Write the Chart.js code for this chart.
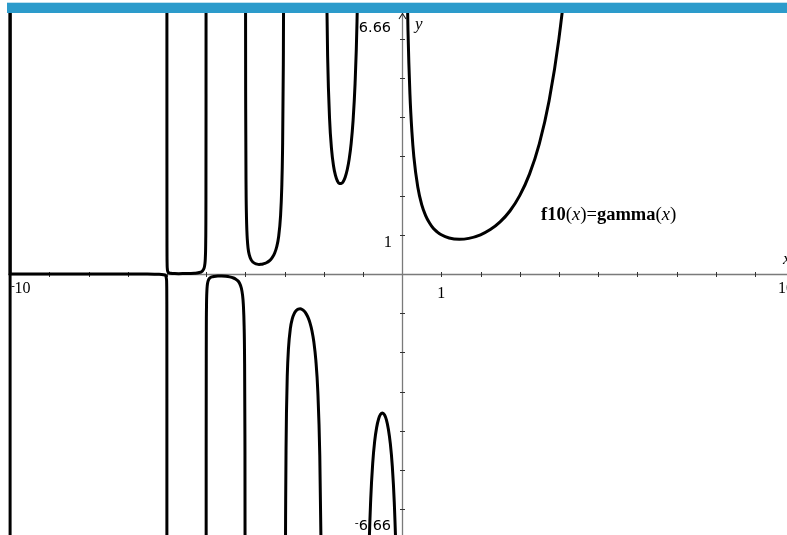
<!DOCTYPE html>
<html><head><meta charset="utf-8">
<script src="https://cdn.jsdelivr.net/npm/chart.js@4.4.0/dist/chart.umd.min.js"></script>
<style>
html,body{margin:0;padding:0;background:#fff;overflow:hidden;width:787px;height:535px}
#wrap{position:absolute;left:0;top:0;width:800px;height:535px}
</style>
</head><body>
<div id="wrap"><canvas id="c" width="800" height="535"></canvas></div>
<script>
// ---- data: f10(x)=gamma(x), window x -10..10, y -6.66..6.66 ----
const xRange = [-10, 10];
const yRange = [-6.66, 6.66];
const xTicks = [-10,-9,-8,-7,-6,-5,-4,-3,-2,-1,1,2,3,4,5,6,7,8,9,10];
const yTicks = [-6,-5,-4,-3,-2,-1,1,2,3,4,5,6];
const funcLabel = ["f10", "(", "x", ")", "=", "gamma", "(", "x", ")"];

// vertical connection drawn at x = -10
const poleLeft = [[-10, -7.5], [-10, 7.5]];
// (-10,-6): values indistinguishable from 0, then dive at -6
const branchM10 = [[-10, 7.5],[-9.9999, 0.0028],[-9.5, 0.0000028],[-8.5, -0.000026],[-7.5, 0.000224],[-6.5, -0.00168],[-6.2, -0.0051],[-6.05, -0.0255],[-6.01, -0.136],[-6.005, -0.275],[-6.002, -0.694],[-6.001, -1.389],[-6.0005, -2.78],[-6.0002, -6.94],[-6.0001, -13.9]];
// (-6,-5)
const branchM6 = [[-5.9999, 13.9],[-5.9998, 6.94],[-5.9995, 2.78],[-5.999, 1.389],[-5.998, 0.694],[-5.995, 0.280],[-5.99, 0.1416],[-5.98, 0.072],[-5.97, 0.0491],[-5.95, 0.0306],[-5.9, 0.017],[-5.8, 0.0104],[-5.7, 0.0094],[-5.6, 0.0096],[-5.5, 0.0109],[-5.4, 0.0137],[-5.3, 0.0192],[-5.2, 0.0316],[-5.1, 0.0714],[-5.05, 0.154],[-5.03, 0.264],[-5.02, 0.403],[-5.01, 0.819],[-5.005, 1.652],[-5.002, 4.16],[-5.001, 8.33],[-5.0005, 16.7]];
// (-5,-4)
const branchM5 = [[-4.9995, -16.7],[-4.999, -8.34],[-4.998, -4.2],[-4.995, -1.681],[-4.99, -0.848],[-4.98, -0.431],[-4.97, -0.293],[-4.96, -0.2236],[-4.95, -0.182],[-4.93, -0.1347],[-4.9, -0.1004],[-4.85, -0.0744],[-4.8, -0.0625],[-4.75, -0.0564],[-4.7, -0.0536],[-4.65, -0.0527],[-4.6, -0.0537],[-4.5, -0.06],[-4.4, -0.0741],[-4.3, -0.102],[-4.25, -0.1261],[-4.2, -0.164],[-4.15, -0.229],[-4.1, -0.364],[-4.07, -0.541],[-4.05, -0.776],[-4.03, -1.328],[-4.02, -2.022],[-4.01, -4.105],[-4.005, -8.27],[-4.002, -20.8]];
// (-4,-3)
const branchM4 = [[-3.998, 21],[-3.995, 8.40],[-3.99, 4.23],[-3.98, 2.148],[-3.97, 1.456],[-3.96, 1.109],[-3.95, 0.902],[-3.93, 0.664],[-3.9, 0.492],[-3.85, 0.361],[-3.8, 0.300],[-3.75, 0.268],[-3.7, 0.252],[-3.65, 0.245],[-3.6, 0.247],[-3.55, 0.255],[-3.5, 0.270],[-3.45, 0.293],[-3.4, 0.326],[-3.35, 0.372],[-3.3, 0.4385],[-3.25, 0.536],[-3.2, 0.689],[-3.15, 0.952],[-3.1, 1.492],[-3.07, 2.20],[-3.05, 3.143],[-3.03, 5.35],[-3.02, 8.13],[-3.01, 16.46],[-3.005, 33.1]];
// (-3,-2)
const branchM3 = [[-2.995, -33.5],[-2.99, -16.88],[-2.98, -8.55],[-2.97, -5.78],[-2.96, -4.39],[-2.95, -3.563],[-2.93, -2.61],[-2.9, -1.919],[-2.85, -1.388],[-2.8, -1.139],[-2.75, -1.004],[-2.7, -0.931],[-2.65, -0.896],[-2.6, -0.889],[-2.55, -0.905],[-2.5, -0.945],[-2.45, -1.011],[-2.4, -1.108],[-2.35, -1.247],[-2.3, -1.447],[-2.25, -1.743],[-2.2, -2.205],[-2.15, -3.0],[-2.1, -4.626],[-2.07, -6.76],[-2.05, -9.585],[-2.03, -16.2],[-2.02, -24.55]];
// (-2,-1)
const branchM2 = [[-1.98, 25.5],[-1.97, 17.16],[-1.96, 13.0],[-1.95, 10.51],[-1.93, 7.66],[-1.9, 5.564],[-1.85, 3.956],[-1.8, 3.188],[-1.75, 2.762],[-1.7, 2.514],[-1.65, 2.374],[-1.6, 2.311],[-1.55, 2.308],[-1.5, 2.363],[-1.45, 2.477],[-1.4, 2.659],[-1.35, 2.931],[-1.3, 3.328],[-1.25, 3.921],[-1.2, 4.851],[-1.15, 6.45],[-1.1, 9.715],[-1.07, 14.0],[-1.05, 19.65],[-1.04, 24.6]];
// (-1,0)
const branchM1 = [[-0.97, -33.8],[-0.95, -20.49],[-0.9, -10.57],[-0.85, -7.32],[-0.8, -5.74],[-0.75, -4.83],[-0.7, -4.27],[-0.65, -3.92],[-0.6, -3.70],[-0.55, -3.58],[-0.5, -3.545],[-0.45, -3.59],[-0.4, -3.72],[-0.35, -3.96],[-0.3, -4.33],[-0.25, -4.90],[-0.2, -5.82],[-0.15, -7.42],[-0.1, -10.69],[-0.05, -20.63],[-0.03, -33.9]];
// (0,inf)
const branchPos = [[0.03, 32.8],[0.05, 19.47],[0.08, 12.0],[0.1, 9.51],[0.12, 7.88],[0.15, 6.22],[0.2, 4.59],[0.25, 3.63],[0.3, 2.99],[0.4, 2.22],[0.5, 1.77],[0.6, 1.49],[0.7, 1.30],[0.8, 1.16],[0.9, 1.07],[1, 1],[1.2, 0.918],[1.46, 0.886],[1.7, 0.909],[2, 1],[2.25, 1.133],[2.5, 1.329],[2.75, 1.608],[3, 2],[3.25, 2.549],[3.5, 3.323],[3.75, 4.423],[4, 6],[4.25, 8.285],[4.5, 11.63]];

const curves = [branchM10, branchM6, branchM5, branchM4, branchM3, branchM2, branchM1, branchPos];

// ---- drawing ----
const PX_PER_X = 39.2;
const LEFT_PX = 10.1;      // pixel of x=-10
const CANVAS_W = 800;
const xMin = xRange[0] - LEFT_PX / PX_PER_X;
const xMax = xMin + CANVAS_W / PX_PER_X;

function toXY(arr){ return arr.map(p => ({x: p[0], y: p[1]})); }

const datasets = curves.map(c => ({
  data: toXY(c), showLine: true, borderColor: '#000', borderWidth: 3,
  pointRadius: 0, cubicInterpolationMode: 'monotone', capBezierPoints: false,
  borderJoinStyle: 'round', borderCapStyle: 'round', fill: false
}));
datasets.unshift({
  data: toXY(poleLeft), showLine: true, borderColor: '#000', borderWidth: 3,
  pointRadius: 0, tension: 0, fill: false
});

const axesPlugin = {
  id: 'tiAxes',
  beforeDatasetsDraw(chart){
    const {ctx, scales:{x, y}} = chart;
    const x0 = Math.round(x.getPixelForValue(0)) + 0.5;
    const y0 = Math.round(y.getPixelForValue(0)) + 0.5;
    ctx.save();
    ctx.strokeStyle = '#7a7a7a'; ctx.lineWidth = 1.3;
    ctx.beginPath(); ctx.moveTo(8, y0); ctx.lineTo(CANVAS_W, y0); ctx.stroke();
    ctx.beginPath(); ctx.moveTo(x0, 13); ctx.lineTo(x0, 535); ctx.stroke();
    ctx.strokeStyle = '#222'; ctx.lineWidth = 1.1;
    ctx.beginPath(); ctx.moveTo(x0 - 3.5, 19); ctx.lineTo(x0, 13.5); ctx.lineTo(x0 + 3.5, 19); ctx.stroke();
    ctx.strokeStyle = '#333'; ctx.lineWidth = 1;
    xTicks.forEach(v => {
      const px = Math.round(x.getPixelForValue(v)) + 0.5;
      ctx.beginPath(); ctx.moveTo(px, y0 - 2.5); ctx.lineTo(px, y0 + 2.5); ctx.stroke();
    });
    yTicks.forEach(v => {
      const py = Math.round(y.getPixelForValue(v)) + 0.5;
      ctx.beginPath(); ctx.moveTo(x0 - 2.5, py); ctx.lineTo(x0 + 2.5, py); ctx.stroke();
    });
    ctx.restore();
  },
  afterDatasetsDraw(chart){
    const {ctx, scales:{x, y}} = chart;
    const x0 = x.getPixelForValue(0), y0 = y.getPixelForValue(0);
    ctx.save();
    ctx.fillStyle = '#000';
    ctx.textBaseline = 'alphabetic';
    // y window labels (sans)
    ctx.font = '14.5px "DejaVu Sans"';
    ctx.textAlign = 'right';
    ctx.fillText(String(yRange[1].toFixed(2)), x0 - 11, 32);
    ctx.fillText(Math.abs(yRange[0]).toFixed(2), x0 - 11, 530);
    const wNeg = ctx.measureText(Math.abs(yRange[0]).toFixed(2)).width;
    ctx.font = '11px "DejaVu Sans"';
    ctx.fillText('-', x0 - 11 - wNeg, 526);
    // tick labels (serif)
    ctx.font = '16.5px "Liberation Serif"';
    ctx.fillText('1', x0 - 10, y.getPixelForValue(1) + 12);
    ctx.font = '16px "Liberation Serif"';
    ctx.textAlign = 'left';
    const pL = x.getPixelForValue(xRange[0]);
    ctx.fillText(String(Math.abs(xRange[0])), pL + 4.5, y0 + 19);
    ctx.font = '11px "DejaVu Sans"';
    ctx.fillText('-', pL + 1, y0 + 15);
    ctx.font = '16px "Liberation Serif"';
    ctx.textAlign = 'center';
    ctx.fillText('1', x.getPixelForValue(1), y0 + 24);
    ctx.textAlign = 'right';
    ctx.fillText(String(xRange[1]), x.getPixelForValue(xRange[1]), y0 + 19);
    // axis names
    ctx.font = 'italic 17px "Liberation Serif"';
    ctx.textAlign = 'left';
    ctx.fillText('y', x0 + 13, 29);
    ctx.fillText('x', 783, 264);
    // function label
    const fonts = ['bold 18.5px "Liberation Serif"', '19px "Liberation Serif"', 'italic 18.5px "Liberation Serif"', '19px "Liberation Serif"', '18.5px "Liberation Serif"', 'bold 18.5px "Liberation Serif"', '19px "Liberation Serif"', 'italic 18.5px "Liberation Serif"', '19px "Liberation Serif"'];
    let cx = 541;
    funcLabel.forEach((t, i) => {
      ctx.font = fonts[i];
      ctx.fillText(t, cx, 220);
      cx += ctx.measureText(t).width;
    });
    ctx.restore();
  },
  afterDraw(chart){
    const ctx = chart.ctx;
    ctx.save();
    ctx.fillStyle = '#2c9bcb';
    ctx.fillRect(7, 3, CANVAS_W - 7, 10);
    ctx.fillStyle = '#bfe0ee';
    ctx.fillRect(7, 2, CANVAS_W - 7, 1);
    ctx.restore();
  }
};

new Chart(document.getElementById('c').getContext('2d'), {
  type: 'scatter',
  data: { datasets },
  options: {
    responsive: false, animation: false, devicePixelRatio: 1, events: [],
    layout: { padding: { top: 13, left: 0, right: 0, bottom: 0 } },
    plugins: { legend: { display: false }, tooltip: { enabled: false } },
    scales: {
      x: { type: 'linear', display: false, min: xMin, max: xMax },
      y: { type: 'linear', display: false, min: yRange[0], max: yRange[1] }
    }
  },
  plugins: [axesPlugin]
});
</script>
</body></html>
